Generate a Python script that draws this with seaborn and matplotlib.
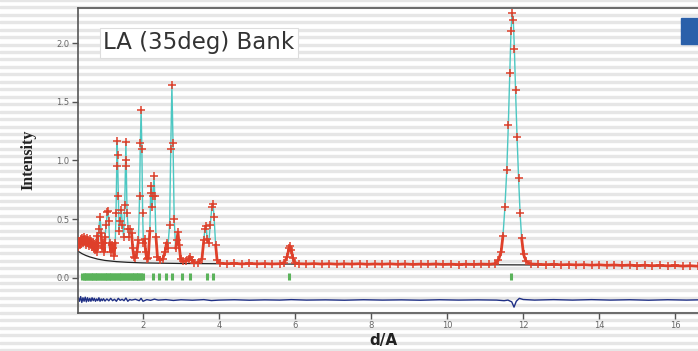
import numpy as np
import matplotlib.pyplot as plt
import seaborn as sns
from matplotlib.patches import Rectangle

sns.set_theme(style="white")

obs_d = [0.30, 0.32, 0.34, 0.36, 0.38, 0.40, 0.42, 0.44, 0.46, 0.48, 0.50, 0.52, 0.54, 0.56,
         0.58, 0.60, 0.62, 0.64, 0.66, 0.68, 0.70, 0.72, 0.74, 0.76, 0.78, 0.80, 0.82, 0.84,
         0.87, 0.90, 0.92, 0.95, 0.98, 1.00, 1.03, 1.06, 1.08, 1.10, 1.12, 1.15, 1.18, 1.21,
         1.24, 1.27, 1.29, 1.31, 1.32, 1.33, 1.35, 1.37, 1.40, 1.43, 1.46, 1.49, 1.52, 1.54,
         1.55, 1.56, 1.58, 1.61, 1.64, 1.67, 1.70, 1.73, 1.76, 1.80, 1.84, 1.88, 1.91, 1.93,
         1.95, 1.97, 1.99, 2.01, 2.04, 2.07, 2.10, 2.14, 2.18, 2.20, 2.22, 2.24, 2.26, 2.29,
         2.31, 2.34, 2.38, 2.45, 2.52, 2.58, 2.62, 2.65, 2.70, 2.73, 2.76, 2.79, 2.82, 2.86,
         2.89, 2.92, 2.95, 2.99, 3.05, 3.12, 3.20, 3.24, 3.28, 3.35, 3.45, 3.55, 3.60, 3.63,
         3.66, 3.69, 3.73, 3.77, 3.81, 3.84, 3.87, 3.91, 3.95, 4.02, 4.20, 4.40, 4.60, 4.80,
         5.00, 5.20, 5.40, 5.60, 5.72, 5.79, 5.84, 5.87, 5.90, 5.94, 5.99, 6.10, 6.30, 6.50,
         6.70, 6.90, 7.10, 7.30, 7.50, 7.70, 7.90, 8.10, 8.30, 8.50, 8.70, 8.90, 9.10, 9.30,
         9.50, 9.70, 9.90, 10.10, 10.30, 10.50, 10.70, 10.90, 11.10, 11.25, 11.35, 11.42,
         11.47, 11.52, 11.57, 11.61, 11.65, 11.68, 11.71, 11.74, 11.77, 11.80, 11.84, 11.88,
         11.92, 11.96, 12.01, 12.08, 12.20, 12.40, 12.60, 12.80, 13.00, 13.20, 13.40, 13.60,
         13.80, 14.00, 14.20, 14.40, 14.60, 14.80, 15.00, 15.20, 15.40, 15.60, 15.80, 16.00,
         16.20, 16.40, 16.60]
obs_i = [0.26, 0.31, 0.28, 0.33, 0.29, 0.34, 0.30, 0.35, 0.31, 0.33, 0.28, 0.34, 0.30, 0.32,
         0.27, 0.33, 0.29, 0.31, 0.26, 0.30, 0.25, 0.29, 0.24, 0.30, 0.22, 0.36, 0.27, 0.42,
         0.52, 0.38, 0.25, 0.30, 0.22, 0.35, 0.45, 0.56, 0.57, 0.48, 0.30, 0.22, 0.28, 0.25,
         0.19, 0.30, 0.55, 0.95, 1.17, 1.05, 0.70, 0.40, 0.48, 0.58, 0.45, 0.35, 0.62, 1.00,
         1.16, 0.95, 0.55, 0.42, 0.35, 0.42, 0.38, 0.25, 0.18, 0.17, 0.22, 0.32, 0.70, 1.15,
         1.43, 1.10, 0.55, 0.30, 0.33, 0.22, 0.16, 0.17, 0.40, 0.72, 0.78, 0.60, 0.70, 0.87,
         0.70, 0.35, 0.18, 0.15, 0.16, 0.22, 0.30, 0.25, 0.45, 1.10, 1.64, 1.15, 0.50, 0.25,
         0.32, 0.39, 0.28, 0.16, 0.14, 0.14, 0.16, 0.18, 0.15, 0.13, 0.13, 0.16, 0.32, 0.42,
         0.44, 0.33, 0.30, 0.45, 0.60, 0.63, 0.52, 0.28, 0.15, 0.125, 0.120, 0.123, 0.118, 0.122,
         0.119, 0.121, 0.118, 0.120, 0.13, 0.18, 0.25, 0.27, 0.24, 0.17, 0.13, 0.120, 0.118, 0.121,
         0.117, 0.120, 0.116, 0.119, 0.117, 0.120, 0.115, 0.118, 0.116, 0.119, 0.115, 0.118, 0.114, 0.117,
         0.115, 0.118, 0.114, 0.116, 0.113, 0.116, 0.114, 0.117, 0.115, 0.120, 0.15, 0.22,
         0.36, 0.60, 0.92, 1.30, 1.75, 2.10, 2.26, 2.20, 1.95, 1.60, 1.20, 0.85,
         0.55, 0.34, 0.20, 0.14, 0.118, 0.115, 0.112, 0.115, 0.111, 0.113, 0.110, 0.112,
         0.108, 0.111, 0.107, 0.110, 0.106, 0.109, 0.104, 0.108, 0.103, 0.106, 0.102, 0.105,
         0.100, 0.103, 0.099]

# --- fitted background ---
bkg_d = [0.30, 0.40, 0.50, 0.60, 0.80, 1.00, 1.30, 1.60, 2.00, 3.00, 5.00, 8.00, 12.00, 16.60]
bkg_i = [0.225, 0.205, 0.190, 0.178, 0.160, 0.148, 0.138, 0.132, 0.127, 0.122, 0.118, 0.115, 0.110, 0.100]

# --- difference curve (obs - calc, plotted with offset) ---
diff_d = [0.30, 0.33, 0.36, 0.39, 0.42, 0.45, 0.48, 0.51, 0.54, 0.57, 0.60, 0.63, 0.66, 0.69,
          0.72, 0.75, 0.78, 0.81, 0.84, 0.87, 0.90, 0.93, 0.96, 1.00, 1.05, 1.10, 1.15, 1.20,
          1.25, 1.30, 1.35, 1.40, 1.45, 1.50, 1.55, 1.60, 1.65, 1.70, 1.80, 1.90, 1.95, 2.00,
          2.10, 2.20, 2.30, 2.40, 2.60, 2.80, 3.00, 3.30, 3.60, 3.80, 4.00, 4.40, 4.80, 5.20,
          5.60, 5.90, 6.30, 6.80, 7.30, 7.80, 8.30, 8.80, 9.30, 9.80, 10.30, 10.80, 11.30, 11.50,
          11.60, 11.70, 11.76, 11.82, 11.90, 12.00, 12.30, 12.80, 13.30, 13.80, 14.30, 14.80,
          15.30, 15.80, 16.30, 16.60]
diff_i = [-0.17, -0.20, -0.16, -0.21, -0.17, -0.20, -0.165, -0.205, -0.17, -0.20, -0.175, -0.20, -0.17, -0.195,
          -0.175, -0.20, -0.18, -0.195, -0.17, -0.20, -0.18, -0.195, -0.178, -0.198, -0.18, -0.196, -0.175, -0.195,
          -0.183, -0.20, -0.175, -0.192, -0.183, -0.195, -0.172, -0.20, -0.185, -0.19, -0.183, -0.195, -0.175, -0.20,
          -0.186, -0.192, -0.182, -0.19, -0.186, -0.193, -0.187, -0.191, -0.186, -0.194, -0.19, -0.187, -0.191, -0.188,
          -0.19, -0.186, -0.19, -0.188, -0.191, -0.187, -0.19, -0.188, -0.191, -0.187, -0.19, -0.188, -0.19, -0.195,
          -0.19, -0.205, -0.25, -0.20, -0.175, -0.185, -0.19, -0.186, -0.19, -0.186, -0.19, -0.187,
          -0.191, -0.187, -0.19, -0.188]

# --- reflection positions (tick marks) ---
refl_d = [0.40, 0.44, 0.47, 0.51, 0.55, 0.58, 0.62, 0.66, 0.69, 0.73, 0.77, 0.80, 0.84, 0.88,
          0.91, 0.95, 0.99, 1.02, 1.06, 1.10, 1.13, 1.17, 1.21, 1.25, 1.28, 1.32, 1.36, 1.40,
          1.43, 1.47, 1.51, 1.55, 1.58, 1.62, 1.66, 1.70, 1.73, 1.77, 1.81, 1.85, 1.88, 1.92,
          1.96, 2.00, 2.26, 2.42, 2.61, 2.76, 3.03, 3.24, 3.68, 3.84, 5.84, 11.68]

obs_red = np.ma.masked_where(np.array(obs_i) > 0.4, obs_i)

fig = plt.figure(figsize=(6.98, 3.51), dpi=100)
fig.patch.set_facecolor("white")

# scanned-slide stripes in the background
for k in range(48):
    fig.patches.append(Rectangle((0, k * 7.45 / 351), 1, 2.0 / 351, transform=fig.transFigure,
                                 color="#e6e6e6", zorder=-5))

ax = fig.add_axes([78 / 698, 38 / 351, 1 - 78 / 698, 305 / 351])
ax.patch.set_alpha(0)

sns.lineplot(x=bkg_d, y=bkg_i, color="#222222", lw=0.9, sort=False, estimator=None, ax=ax, zorder=1)
sns.lineplot(x=obs_d, y=obs_i, color="#4cc7c2", lw=1.0, sort=False, estimator=None, ax=ax, zorder=2)
ax.plot(obs_d, obs_red, color="#e0402a", lw=2.0, zorder=3)
sns.scatterplot(x=obs_d, y=obs_i, marker="+", s=28, color="#de3f2a", linewidth=1.1, ax=ax, zorder=4)
sns.lineplot(x=diff_d, y=diff_i, color="#1f2f85", lw=1.0, sort=False, estimator=None, ax=ax, zorder=2)
ax.vlines(refl_d, -0.02, 0.04, color="#5bb35b", lw=2.2, zorder=2)

ax.set_xlim(0.29, 16.6)
ax.set_ylim(-0.30, 2.30)
ax.set_xticks([2, 4, 6, 8, 10, 12, 14, 16])
ax.set_yticks([0.0, 0.5, 1.0, 1.5, 2.0])
ax.set_xticklabels(["2", "4", "6", "8", "10", "12", "14", "16"])
ax.set_yticklabels(["0.0", "0.5", "1.0", "1.5", "2.0"])
ax.tick_params(axis="both", direction="out", length=4, width=1, color="#555555",
               labelsize=6, labelcolor="#666666", left=True, bottom=True, pad=2)
for side in ["left", "bottom", "top"]:
    ax.spines[side].set_color("#555555")
    ax.spines[side].set_linewidth(1.2)
ax.spines["right"].set_visible(False)
ax.set_xlabel("")
ax.set_ylabel("")

# title box
fig.text(103 / 698, 1 - 43 / 351, "LA (35deg) Bank", fontsize=16.5, family="DejaVu Sans",
         color="#333333", va="center", ha="left",
         bbox=dict(boxstyle="square,pad=0.15", fc="white", ec="#dddddd", lw=0.8))

fig.text(28 / 698, 1 - 160 / 351, "Intensity", rotation=90, fontsize=11.5, family="Liberation Serif",
         fontweight="bold", color="#222222", ha="center", va="center")
fig.text(383 / 698, 1 - 340 / 351, "d/A", fontsize=11, fontweight="bold", family="DejaVu Sans",
         color="#222222", ha="center", va="center")

# blue slide marker top-right
fig.patches.append(Rectangle((681 / 698, 1 - 44 / 351), 20 / 698, 26 / 351, transform=fig.transFigure,
                             color="#2a60aa", zorder=5))

fig.savefig("out.png", dpi=100)
